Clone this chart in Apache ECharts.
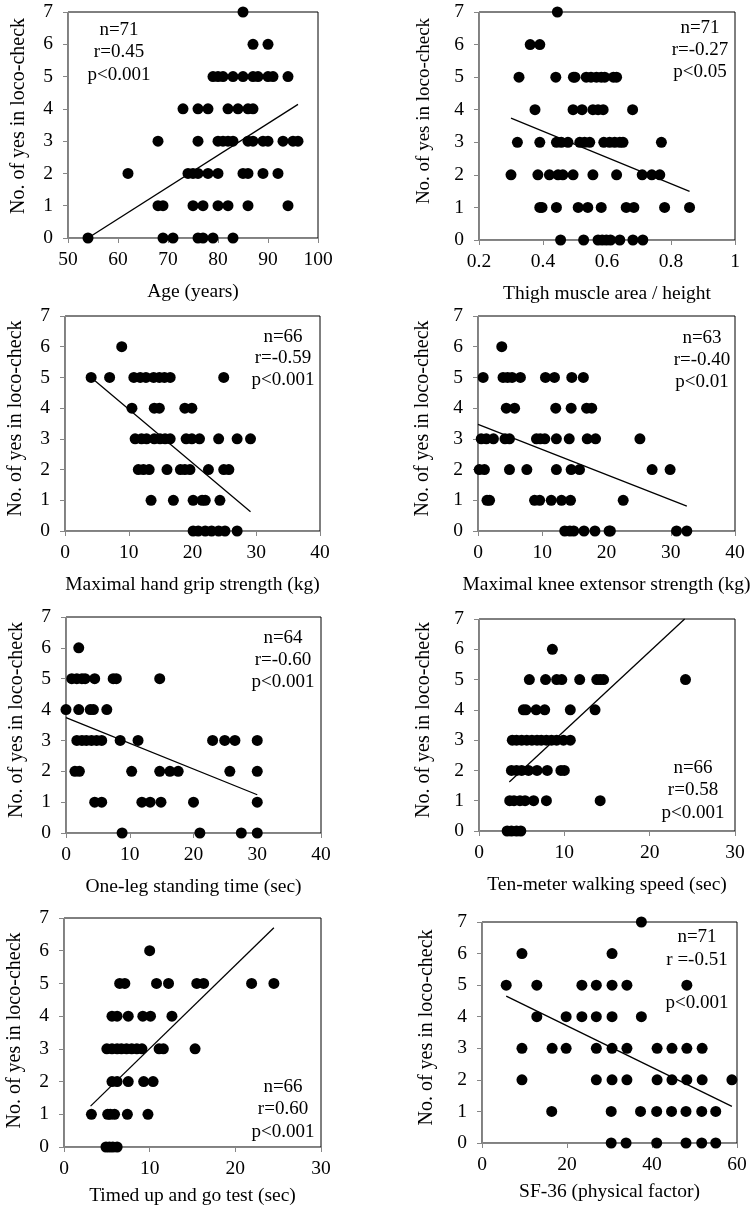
<!DOCTYPE html>
<html>
<head>
<meta charset="utf-8">
<script src="https://cdn.jsdelivr.net/npm/echarts@6/dist/echarts.min.js"></script>
<style>
html,body{margin:0;padding:0;background:#fff;}
#chart{width:753px;height:1208px;}
</style>
</head>
<body>
<div id="chart"></div>
<script>
// ---------- DATA ----------
const yTitle = 'No. of yes in loco-check';

const ageX = [85, 87,90, 79,80,81,83,85,87,88,90,91,94, 73,76,78,82,84,86,87, 68,76,80,81,82,83,86,87,89,90,93,95,96, 62,74,75,76,78,80,85,86,89,92, 68,69,75,77,80,82,86,94, 54,69,71,76,77,79,83];
const ageY = [7, 6,6, 5,5,5,5,5,5,5,5,5,5, 4,4,4,4,4,4,4, 3,3,3,3,3,3,3,3,3,3,3,3,3, 2,2,2,2,2,2,2,2,2,2, 1,1,1,1,1,1,1,1, 0,0,0,0,0,0,0];
const ageFitX = [54, 96];
const ageFitY = [0.0, 4.14];

const thighX = [0.445, 0.36,0.39, 0.325,0.44,0.495,0.50,0.535,0.55,0.567,0.582,0.593,0.62,0.63, 0.375,0.494,0.522,0.556,0.572,0.588,0.68, 0.32,0.39,0.442,0.457,0.478,0.515,0.53,0.546,0.59,0.608,0.624,0.64,0.65,0.77, 0.30,0.384,0.42,0.447,0.462,0.494,0.556,0.63,0.71,0.74,0.765, 0.39,0.397,0.442,0.51,0.54,0.582,0.66,0.684,0.78,0.858, 0.455,0.527,0.572,0.585,0.598,0.611,0.64,0.681,0.712];
const thighY = [7, 6,6, 5,5,5,5,5,5,5,5,5,5,5, 4,4,4,4,4,4,4, 3,3,3,3,3,3,3,3,3,3,3,3,3,3, 2,2,2,2,2,2,2,2,2,2,2, 1,1,1,1,1,1,1,1,1,1, 0,0,0,0,0,0,0,0,0];
const thighFitX = [0.30, 0.858];
const thighFitY = [3.74, 1.49];

const gripX = [8.9, 4.1,7.0,10.8,11.8,12.7,13.9,14.8,15.6,16.5,24.9, 10.5,14.0,14.8,18.8,19.9, 11.0,12.0,12.8,14.0,14.9,15.7,16.5,19.0,19.9,21.1,24.1,27.0,29.1, 11.5,12.3,13.2,16.0,18.1,18.8,19.6,22.5,24.9,25.7, 13.5,17.0,20.1,21.5,22.0,24.3, 20.1,20.9,22.0,23.0,24.1,25.1,27.0];
const gripY = [6, 5,5,5,5,5,5,5,5,5,5, 4,4,4,4,4, 3,3,3,3,3,3,3,3,3,3,3,3,3, 2,2,2,2,2,2,2,2,2,2, 1,1,1,1,1,1, 0,0,0,0,0,0,0];
const gripFitX = [4.7, 29.1];
const gripFitY = [4.89, 0.63];

const kneeX = [3.7, 0.8,3.9,4.6,5.3,6.6,10.5,11.9,14.6,16.4, 4.4,5.7,12.1,14.5,16.9,17.7, 0.5,1.3,2.4,4.2,4.9,9.1,9.7,10.4,12.2,14.2,17.0,18.3,25.2, 0.2,1.0,4.9,7.6,12.2,14.5,15.8,27.1,29.9, 1.4,1.8,8.8,9.6,11.4,13.0,14.4,22.6, 13.5,14.3,14.9,16.5,18.2,20.4,20.6,30.9,32.5];
const kneeY = [6, 5,5,5,5,5,5,5,5,5, 4,4,4,4,4,4, 3,3,3,3,3,3,3,3,3,3,3,3,3, 2,2,2,2,2,2,2,2,2, 1,1,1,1,1,1,1,1, 0,0,0,0,0,0,0,0,0];
const kneeFitX = [0, 32.5];
const kneeFitY = [3.47, 0.81];

const legX = [2.0, 0.9,1.7,2.5,3.0,4.5,7.4,7.9,14.7, 0,2.0,3.8,4.3,6.4, 1.7,2.5,3.2,4.0,4.8,5.6,8.5,11.3,23.0,24.9,26.5,30.0, 1.4,2.1,10.3,14.7,16.3,17.6,25.7,30.0, 4.5,5.6,11.9,13.2,14.9,20.0,30.0, 8.8,21.0,27.5,30.0];
const legY = [6, 5,5,5,5,5,5,5,5, 4,4,4,4,4, 3,3,3,3,3,3,3,3,3,3,3,3, 2,2,2,2,2,2,2,2, 1,1,1,1,1,1,1, 0,0,0,0];
const legFitX = [0, 30];
const legFitY = [3.74, 1.24];

const walkX = [8.6, 5.9,7.8,9.1,9.7,11.8,13.8,14.2,14.6,24.2, 5.2,5.5,6.7,7.7,10.7,13.6, 3.9,4.4,5.0,5.6,6.2,6.8,7.3,7.9,8.5,9.1,9.9,10.7, 3.8,4.4,5.0,5.8,6.8,8.0,9.6,10.0, 3.6,4.1,4.8,5.4,6.4,7.9,14.2, 3.3,3.8,4.4,4.9];
const walkY = [6, 5,5,5,5,5,5,5,5,5, 4,4,4,4,4,4, 3,3,3,3,3,3,3,3,3,3,3,3, 2,2,2,2,2,2,2,2, 1,1,1,1,1,1,1, 0,0,0,0];
const walkFitX = [3.55, 24.1];
const walkFitY = [1.62, 7.0];

const tugX = [10.0, 6.5,7.1,10.8,12.2,15.5,16.3,21.9,24.5, 5.6,6.2,7.5,9.2,10.1,12.6, 5.0,5.6,6.2,6.7,7.3,7.9,8.5,9.1,11.1,11.6,15.3, 5.6,6.2,7.5,9.3,10.4, 3.2,5.1,5.4,5.9,7.4,9.8, 4.9,5.3,5.7,6.2];
const tugY = [6, 5,5,5,5,5,5,5,5, 4,4,4,4,4,4, 3,3,3,3,3,3,3,3,3,3,3, 2,2,2,2,2, 1,1,1,1,1,1, 0,0,0,0];
const tugFitX = [3.1, 24.5];
const tugFitY = [1.25, 6.7];

const sfX = [37.5, 9.4,30.6, 5.7,12.9,23.5,26.9,30.6,34.1,48.2, 12.9,19.8,23.5,26.9,30.6,37.5, 9.4,16.5,19.8,26.9,30.6,34.1,41.2,44.7,48.2,51.8, 9.4,26.9,30.6,34.1,41.2,44.7,48.2,51.8,58.8, 16.4,30.4,37.3,41.1,44.6,48.0,51.7,55.0, 30.4,33.9,41.1,48.0,51.7,55.0];
const sfY = [7, 6,6, 5,5,5,5,5,5,5, 4,4,4,4,4,4, 3,3,3,3,3,3,3,3,3,3, 2,2,2,2,2,2,2,2,2, 1,1,1,1,1,1,1,1, 0,0,0,0,0,0];
const sfFitX = [5.7, 58.8];
const sfFitY = [4.65, 1.16];

const xTitles = ['Age (years)', 'Thigh muscle area / height', 'Maximal hand grip strength (kg)', 'Maximal knee extensor strength (kg)', 'One-leg standing time (sec)', 'Ten-meter walking speed (sec)', 'Timed up and go test (sec)', 'SF-36 (physical factor)'];
const notes = [
  ['n=71', 'r=0.45', 'p<0.001'],
  ['n=71', 'r=-0.27', 'p<0.05'],
  ['n=66', 'r=-0.59', 'p<0.001'],
  ['n=63', 'r=-0.40', 'p<0.01'],
  ['n=64', 'r=-0.60', 'p<0.001'],
  ['n=66', 'r=0.58', 'p<0.001'],
  ['n=66', 'r=0.60', 'p<0.001'],
  ['n=71', 'r =-0.51', 'p<0.001']
];
const xRanges = [[50, 100, 10], [0.2, 1, 0.2], [0, 40, 10], [0, 40, 10], [0, 40, 10], [0, 30, 10], [0, 30, 10], [0, 60, 20]];
const yRange = [0, 7, 1];

// ---------- LAYOUT ----------
const FONT = "'Liberation Serif', 'Times New Roman', serif";
const boxes = [ // left, top, width, height
  [68, 12, 250, 226], [479, 12, 256, 228],
  [65, 316, 255, 215], [478, 316, 257, 215],
  [66, 617, 255, 216], [479, 619, 256, 212],
  [64, 918, 257, 229], [482, 922, 255, 221]
];
const yTitleShift = [18, 30, 10, 10, 10, 10, 4, 10]; // padding (px) moving y titles upward
const xTitleGap = [44, 44, 44, 44, 44, 44, 39, 39];
const notePos = [ // center x, line y's
  [119, [30, 52, 75]], [700, [28, 50, 72]],
  [283, [337, 358, 380]], [702, [338, 360, 382]],
  [283, [638, 660, 682]], [693, [768, 790, 813]],
  [283, [1087, 1109, 1132]], [697, [937, 960, 1003]]
];

const panels = [
  [ageX, ageY, ageFitX, ageFitY],
  [thighX, thighY, thighFitX, thighFitY],
  [gripX, gripY, gripFitX, gripFitY],
  [kneeX, kneeY, kneeFitX, kneeFitY],
  [legX, legY, legFitX, legFitY],
  [walkX, walkY, walkFitX, walkFitY],
  [tugX, tugY, tugFitX, tugFitY],
  [sfX, sfY, sfFitX, sfFitY]
];

const grid = [], xAxis = [], yAxis = [], series = [], graphic = [];
const axisGray = '#868686';

panels.forEach((p, i) => {
  const b = boxes[i];
  const right = (i % 2 === 1);
  grid.push({left: b[0], top: b[1], width: b[2], height: b[3], show: true, borderColor: '#000', borderWidth: 1, backgroundColor: 'transparent'});
  const xr = xRanges[i];
  xAxis.push({
    type: 'value', gridIndex: i, min: xr[0], max: xr[1], interval: xr[2],
    name: xTitles[i], nameLocation: 'middle', nameGap: xTitleGap[i],
    nameTextStyle: {fontFamily: FONT, fontSize: 19.5, color: '#000'},
    axisLine: {show: true, onZero: false, lineStyle: {color: axisGray, width: 1}},
    axisTick: {show: true, inside: false, length: 5, lineStyle: {color: axisGray}},
    axisLabel: {fontFamily: FONT, fontSize: 19.5, color: '#000', margin: 12,
      formatter: v => String(Math.round(v * 10) / 10)},
    splitLine: {show: false}
  });
  yAxis.push({
    type: 'value', gridIndex: i, min: yRange[0], max: yRange[1], interval: yRange[2],
    name: yTitle, nameLocation: 'middle', nameGap: right ? 45 : 39,
    nameTextStyle: {fontFamily: FONT, fontSize: i === 1 ? 19 : 20, color: '#000', padding: [0, 0, 0, yTitleShift[i]]},
    axisLine: {show: true, onZero: false, lineStyle: {color: axisGray, width: 1}},
    axisTick: {show: true, inside: false, length: 5, lineStyle: {color: axisGray}},
    axisLabel: {fontFamily: FONT, fontSize: 19.5, color: '#000', margin: 15},
    splitLine: {show: false}
  });
  series.push({
    type: 'scatter', xAxisIndex: i, yAxisIndex: i, clip: false,
    symbol: 'circle', symbolSize: 11, itemStyle: {color: '#000', opacity: 1},
    data: p[0].map((x, k) => [x, p[1][k]]), z: 3, silent: true
  });
  series.push({
    type: 'line', xAxisIndex: i, yAxisIndex: i, clip: false,
    showSymbol: false, symbol: 'none', lineStyle: {color: '#000', width: 1.3},
    data: p[2].map((x, k) => [x, p[3][k]]), z: 2, silent: true
  });
  const np = notePos[i];
  notes[i].forEach((t, k) => {
    graphic.push({type: 'text', x: np[0], y: np[1][k], z: 10,
      style: {text: t, fontFamily: FONT, fontSize: 19, fill: '#000', align: 'center', verticalAlign: 'middle'}});
  });
});

const chart = echarts.init(document.getElementById('chart'), null, {renderer: 'canvas'});
chart.setOption({animation: false, backgroundColor: '#fff', grid, xAxis, yAxis, series, graphic});
</script>
</body>
</html>
